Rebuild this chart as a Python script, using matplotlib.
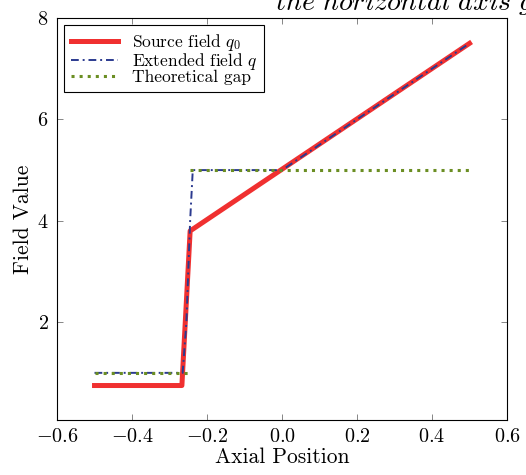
import matplotlib
matplotlib.use("Agg")

import numpy as np
import matplotlib.pyplot as plt

plt.rcParams["font.family"] = ["cmr10"]
plt.rcParams["mathtext.fontset"] = "cm"
plt.rcParams["axes.formatter.use_mathtext"] = True

# source field q0
x_src = [-0.5, -0.267, -0.245, 0.5]
q_src = [0.75, 0.75, 3.8, 7.5]

# extended field q
x_ext = [-0.5, -0.265, -0.255, -0.245, -0.238, 0.0, 0.5]
q_ext = [1.0, 1.0, 2.0, 4.0, 5.0, 5.0, 7.5]

# theoretical gap: two separate levels
x_gap = [-0.5, -0.25, np.nan, -0.245, 0.5]
q_gap = [1.0, 1.0, np.nan, 5.0, 5.0]

fig = plt.figure(figsize=(5.26, 4.75), dpi=100)
ax = fig.add_axes([0.1084, 0.1158, 0.8555, 0.8463])

ax.plot(x_src, q_src, color="#f03030", lw=3.6, label=r"Source field $q_0$")
ax.plot(x_ext, q_ext, color="#2b3a8f", lw=1.4, dashes=(4, 2, 1, 2),
        label=r"Extended field $q$")
ax.plot(x_gap, q_gap, color="#6b8e23", lw=2.2, ls=":",
        label="Theoretical gap")

ax.set_xlim(-0.6, 0.6)
ax.set_ylim(0.07, 8)
ax.set_xticks([-0.6, -0.4, -0.2, 0, 0.2, 0.4, 0.6])
ax.set_yticks([2, 4, 6, 8])
ax.tick_params(direction="in", top=True, right=True, length=4,
               width=0.6, color="0.45", labelsize=14.5, pad=6)
for s in ax.spines.values():
    s.set_linewidth(0.8)

ax.set_xlabel("Axial Position", fontsize=15.5, labelpad=1)
ax.set_ylabel("Field Value", fontsize=15.5, labelpad=3)

leg = ax.legend(loc="upper left", fontsize=12.5, fancybox=False,
                edgecolor="black", framealpha=1, handlelength=2.7,
                labelspacing=-0.12, borderpad=0.4, handletextpad=0.8,
                borderaxespad=0.4)
leg.get_frame().set_linewidth(0.8)

fig.text(275 / 526, 1 - 10 / 475,
         r"$\mathit{the\ horizontal\ axis\ gives\ the\ axial\ position}$",
         fontsize=20, ha="left", va="baseline")

fig.savefig("out.png", dpi=100)
plt.close(fig)
